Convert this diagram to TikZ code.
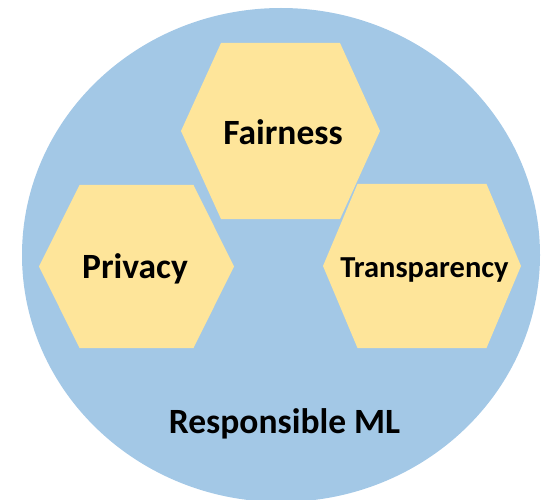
\documentclass[tikz,border=0pt]{standalone}
\usepackage{fontspec}
\setmainfont{Carlito}
\definecolor{mlblue}{HTML}{A3C8E6}
\definecolor{pillar}{HTML}{FEE59A}
\begin{document}
\begin{tikzpicture}[x=1pt,y=-1pt,
  hexfill/.style={fill=pillar,draw=none},
  bigtext/.style={font=\bfseries\fontsize{35.5}{42}\selectfont,text=black,inner sep=0pt,anchor=base},
  midtext/.style={font=\bfseries\fontsize{30.5}{36}\selectfont,text=black,inner sep=0pt,anchor=base}]
  \useasboundingbox (0,0) rectangle (541,500);
  % outer disc
  \fill[mlblue] (281,255) ellipse [x radius=259, y radius=247];
  % the three pillars: centre (cx,cy), half width w, half height h, half top edge t
  \newcommand{\hexat}[5]{%
    \fill[hexfill] (#1-#3,#2) -- (#1-#5,#2-#4) -- (#1+#5,#2-#4) -- (#1+#3,#2)
      -- (#1+#5,#2+#4) -- (#1-#5,#2+#4) -- cycle;}
  \hexat{280.5}{131}{99.5}{88}{59.5}
  \hexat{136.5}{266.5}{97.5}{81.5}{57}
  \hexat{422}{266}{99}{82}{64.5}
  % labels
  \node[bigtext] (fair) at (283,145) {Fairness};
  \node[bigtext] (priv) at (135,278) {Privacy};
  \node[midtext] (trans) at (424.5,277) {Transparency};
  \node[bigtext] (rml) at (284.5,433) {Responsible ML};
\end{tikzpicture}
\end{document}
